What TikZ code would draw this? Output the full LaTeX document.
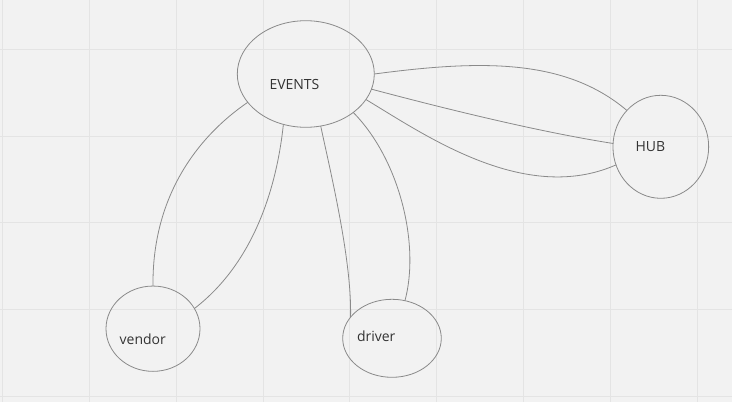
\documentclass[tikz,border=0pt]{standalone}
\usepackage{fontspec}
\setmainfont{Open Sans}
\usetikzlibrary{shapes.geometric}
\definecolor{bg}{HTML}{F2F2F2}
\definecolor{gridc}{HTML}{E4E4E4}
\definecolor{linec}{HTML}{8A8A8A}
\definecolor{txt}{HTML}{333333}
\begin{document}
\begin{tikzpicture}[x=1pt,y=-1pt,
  ell/.style={ellipse, draw=linec, line width=0.8pt, outer sep=0pt, inner sep=0pt},
  lbl/.style={text=txt, font=\fontsize{14}{16}\selectfont, anchor=base west, inner sep=0pt},
  conn/.style={draw=linec, line width=0.8pt},
  gridline/.style={draw=gridc, line width=1pt}]
\fill[bg] (0,0) rectangle (732,402);
\useasboundingbox (0,0) rectangle (732,402);
\foreach \x in {2.7,89.5,176.3,263.1,349.9,436.7,523.5,610.3,697.1}
  \draw[gridline] (\x,0) -- (\x,402);
\foreach \y in {49.3,136,222.7,309.4,396.1}
  \draw[gridline] (0,\y) -- (732,\y);

\node[ell, minimum width=137pt, minimum height=106.6pt] (evt) at (305.8,74) {};
\node[ell, minimum width=95.7pt, minimum height=103pt] (hub) at (660.8,146.8) {};
\node[ell, minimum width=94pt, minimum height=85.3pt] (ven) at (153,328.7) {};
\node[ell, minimum width=98.6pt, minimum height=78pt] (drv) at (392,338.3) {};

\node[lbl] (evtl) at (269.3,89.3) {EVENTS};
\node[lbl] (hubl) at (635.3,151.7) {HUB};
\node[lbl] (venl) at (119.5,344.3) {vendor};
\node[lbl] (drvl) at (356.8,341.5) {driver};

\draw[conn] (evt.206.6) .. controls (197,137) and (152,197) .. (ven.90);
\draw[conn] (evt.246.7) .. controls (277,185) and (255,262) .. (ven.26.6);
\draw[conn] (evt.286.1) .. controls (330,170) and (352,260) .. (drv.153.3);
\draw[conn] (evt.321.2) .. controls (400,160) and (420,245) .. (drv.71.6);
\draw[conn] (evt.0) .. controls (480,60) and (565,58) .. (hub.133.4);
\draw[conn] (evt.347) .. controls (450,110) and (540,132) .. (hub.176);
\draw[conn] (evt.337.4) .. controls (425,135) and (525,205) .. (hub.202.9);
\end{tikzpicture}
\end{document}
